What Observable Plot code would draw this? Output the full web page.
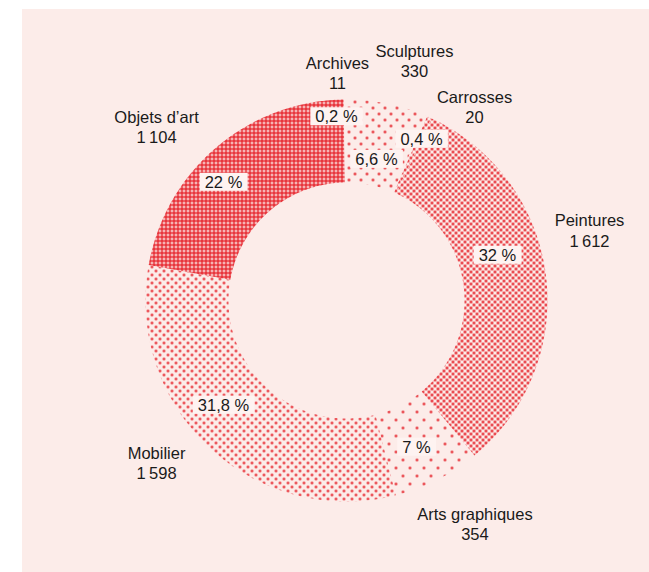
<!DOCTYPE html>
<html><head><meta charset="utf-8">
<script src="https://cdn.jsdelivr.net/npm/d3@7"></script>
<script src="https://cdn.jsdelivr.net/npm/@observablehq/plot@0.6"></script>
<style>
html,body{margin:0;padding:0;background:#fff;overflow:hidden}
#wrap{position:absolute;left:22px;top:9px;width:627px;height:563px;background:#fcece9;overflow:hidden}
</style></head><body><div id="wrap"></div>
<script>
// ---- data ----
const categories = ["Sculptures","Carrosses","Peintures","Arts graphiques","Mobilier","Objets d’art","Archives"];
const counts = [330, 20, 1612, 354, 1598, 1104, 11];
const countLabels = ["330", "20", "1\u202f612", "354", "1\u202f598", "1\u202f104", "11"];
const percentLabels = ["6,6\u00a0%", "0,4\u00a0%", "32\u00a0%", "7\u00a0%", "31,8\u00a0%", "22\u00a0%", "0,2\u00a0%"];

// ---- layout (unit circle coordinates, outer radius = 1) ----
const INNER = 118 / 201;
const outerLabelPos = [[0.338,1.194],[0.637,0.965],[1.209,0.351],[0.639,-1.109],[-0.945,-0.806],[-0.945,0.866],[-0.045,1.134]];
const pctLabelPos = [[0.149,0.701],[0.373,0.801],[0.751,0.224],[0.348,-0.731],[-0.612,-0.522],[-0.612,0.587],[-0.050,0.913]];

const RED = "#e8363d";
const BG = "#fcece9";
const INK = "#1a1a1a";
const FONT = "Liberation Sans, Arial, sans-serif";

const total = d3.sum(counts);
let acc = 0;
const slices = categories.map((c, i) => {
  const a0 = acc / total * 2 * Math.PI; acc += counts[i];
  const a1 = acc / total * 2 * Math.PI;
  return {c, a0, a1, i};
});
function ring(s) {
  const pts = [];
  const n = Math.max(2, Math.ceil((s.a1 - s.a0) / (Math.PI / 360)));
  for (let k = 0; k <= n; k++) { const a = s.a0 + (s.a1 - s.a0) * k / n; pts.push({x: Math.sin(a), y: Math.cos(a)}); }
  for (let k = n; k >= 0; k--) { const a = s.a0 + (s.a1 - s.a0) * k / n; pts.push({x: INNER * Math.sin(a), y: INNER * Math.cos(a)}); }
  return pts;
}

const fills = ["url(#pSparse)", "url(#pDense)", "url(#pDense)", "url(#pArts)", "url(#pMed)", "url(#pObj)", BG];
const strokes = ["none", BG, "none", "none", "none", "none", "none"];

const W = 627, H = 563, CX = 324, CY = 291, R = 201;

const outerData = categories.map((c, i) => ({x: outerLabelPos[i][0], y: outerLabelPos[i][1], t: c + "\n" + countLabels[i]}));
const pctData = categories.map((c, i) => ({x: pctLabelPos[i][0], y: pctLabelPos[i][1], t: percentLabels[i]}));

const chart = Plot.plot({
  width: W, height: H,
  margin: 0,
  style: {background: "transparent", overflow: "visible"},
  x: {domain: [-1, 1], range: [CX - R, CX + R], axis: null},
  y: {domain: [-1, 1], range: [CY + R, CY - R], axis: null},
  marks: [
    ...slices.map(s => Plot.line(ring(s), {x: "x", y: "y", curve: "linear-closed", fill: fills[s.i], stroke: strokes[s.i], strokeWidth: 1})),
    Plot.text(outerData, {x: "x", y: "y", text: "t", fontSize: 16.5, lineHeight: 1.25, fill: INK, fontFamily: FONT}),
    Plot.text(pctData, {x: "x", y: "y", text: "t", fontSize: 16.5, fill: INK, fontFamily: FONT})
  ]
});

// patterns
const ns = "http://www.w3.org/2000/svg";
function plus(x, y) { return `M${x},${y+1}h3v1h-3z M${x+1},${y}h1v3h-1z`; }
function corners(x, y) { return `M${x},${y}h1v1h-1z M${x+2},${y}h1v1h-1z M${x},${y+2}h1v1h-1z M${x+2},${y+2}h1v1h-1z`; }
function pattern(id, w, h, content) {
  return `<pattern id="${id}" patternUnits="userSpaceOnUse" width="${w}" height="${h}">${content}</pattern>`;
}
const defs = document.createElementNS(ns, "defs");
defs.innerHTML =
  pattern("pSparse", 12, 12, `<path d="${plus(1,1)} ${plus(7,7)}" fill="${RED}"/><path d="${corners(1,1)} ${corners(7,7)}" fill="${RED}" opacity="0.3"/>`) +
  pattern("pArts", 14, 16, `<path d="${plus(1,1)} ${plus(8,9)}" fill="${RED}"/><path d="${corners(1,1)} ${corners(8,9)}" fill="${RED}" opacity="0.3"/>`) +
  pattern("pMed", 8, 8, `<path d="${plus(0,0)} ${plus(4,4)}" fill="${RED}"/><path d="${corners(0,0)} ${corners(4,4)}" fill="${RED}" opacity="0.25"/>`) +
  pattern("pDense", 6, 6, `<path d="${plus(0,0)} ${plus(3,3)}" fill="${RED}"/><path d="${corners(0,0)} ${corners(3,3)}" fill="${RED}" opacity="0.55"/>`) +
  pattern("pObj", 4, 4, `<rect width="4" height="4" fill="${RED}"/><path d="${plus(0,0)}" fill="#f9d3d2"/><rect x="1" y="1" width="1" height="1" fill="#fff3f2"/>`);
chart.insertBefore(defs, chart.firstChild);

document.getElementById("wrap").appendChild(chart);

// light boxes behind percentage labels
chart.querySelectorAll("text").forEach(t => {
  if (!t.textContent.includes("%")) return;
  const b = t.getBBox();
  const r = document.createElementNS(ns, "rect");
  r.setAttribute("x", b.x - 5); r.setAttribute("y", b.y);
  r.setAttribute("width", b.width + 10); r.setAttribute("height", b.height);
  r.setAttribute("fill", "#fef3f1");
  const tr = t.getAttribute("transform"); if (tr) r.setAttribute("transform", tr);
  t.parentNode.insertBefore(r, t);
});
</script></body></html>
